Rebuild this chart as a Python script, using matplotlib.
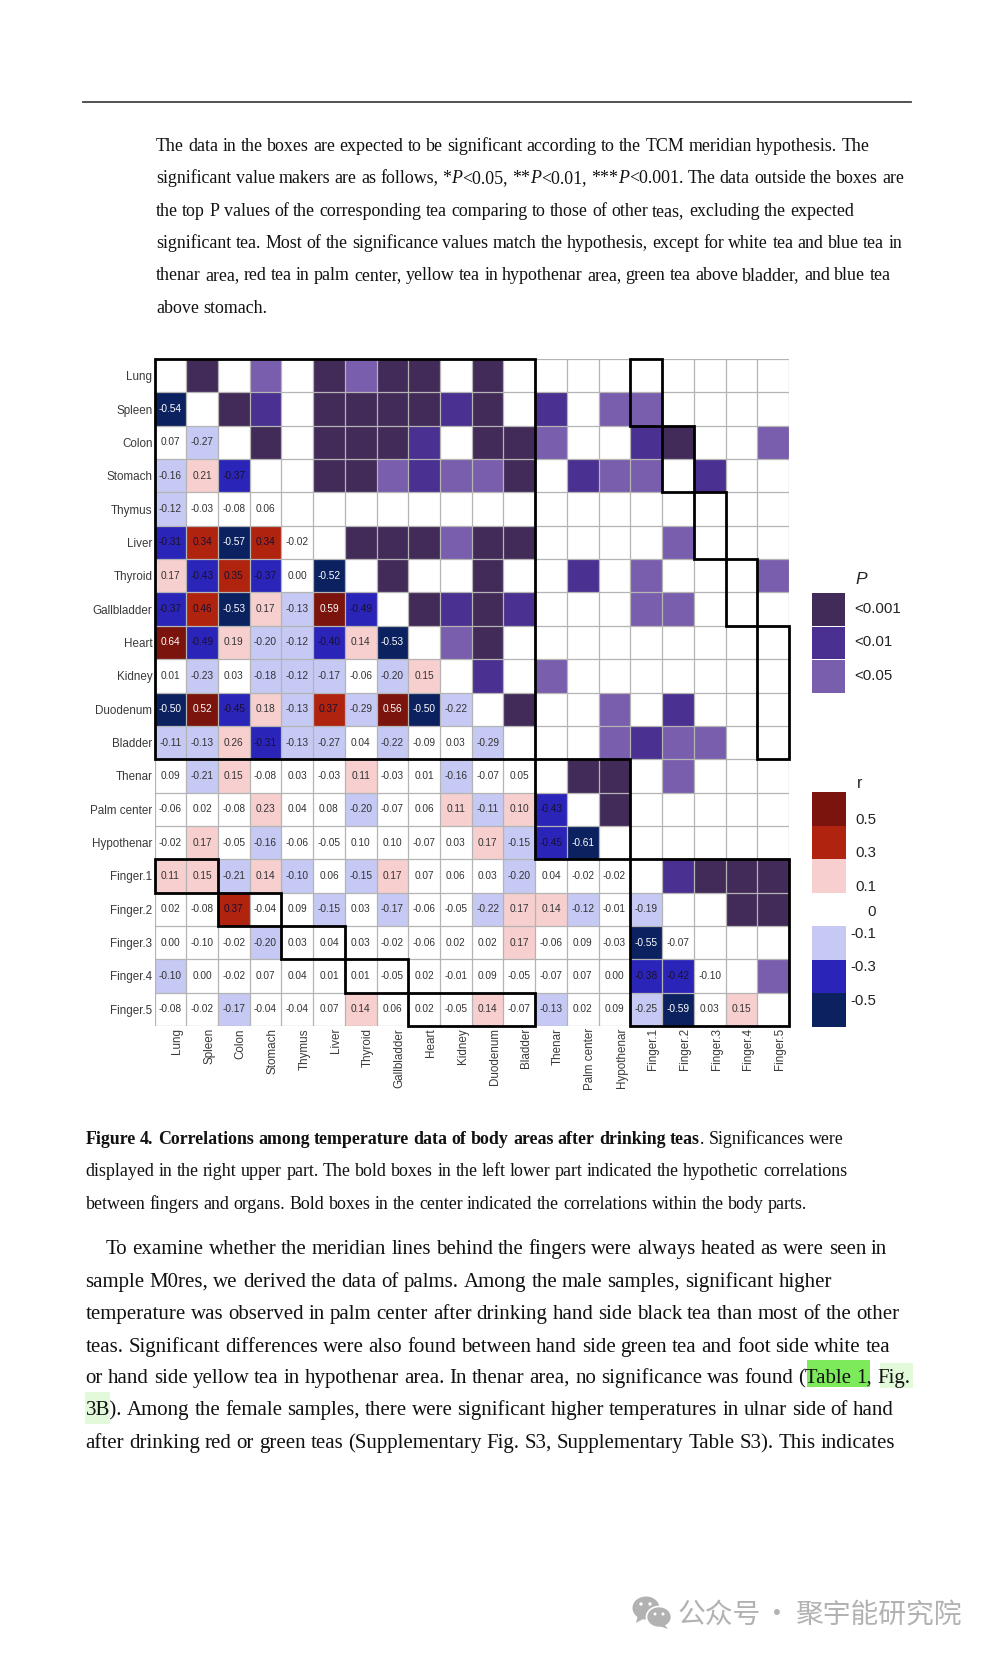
import numpy as np
import matplotlib
matplotlib.use("Agg")
import matplotlib.pyplot as plt
from matplotlib.colors import ListedColormap, BoundaryNorm
from matplotlib.patches import Rectangle, Ellipse, Polygon
from matplotlib.transforms import ScaledTranslation

plt.rcParams["font.family"] = ["Liberation Sans", "DejaVu Sans"]

names = ["Lung", "Spleen", "Colon", "Stomach", "Thymus", "Liver", "Thyroid", "Gallbladder", "Heart", "Kidney",
         "Duodenum", "Bladder", "Thenar", "Palm center", "Hypothenar", "Finger.1", "Finger.2", "Finger.3",
         "Finger.4", "Finger.5"]

# lower left part: r values, row by row
# 0.098 prints as 0.10 but stays white, as those cells do in the figure
r_rows = [
    [],
    [-0.54],
    [0.07, -0.27],
    [-0.16, 0.21, -0.37],
    [-0.12, -0.03, -0.08, 0.06],
    [-0.31, 0.34, -0.57, 0.34, -0.02],
    [0.17, -0.43, 0.35, -0.37, 0.00, -0.52],
    [-0.37, 0.46, -0.53, 0.17, -0.13, 0.59, -0.49],
    [0.64, -0.49, 0.19, -0.20, -0.12, -0.40, 0.14, -0.53],
    [0.01, -0.23, 0.03, -0.18, -0.12, -0.17, -0.06, -0.20, 0.15],
    [-0.50, 0.52, -0.45, 0.18, -0.13, 0.37, -0.29, 0.56, -0.50, -0.22],
    [-0.11, -0.13, 0.26, -0.31, -0.13, -0.27, 0.04, -0.22, -0.09, 0.03, -0.29],
    [0.09, -0.21, 0.15, -0.08, 0.03, -0.03, 0.11, -0.03, 0.01, -0.16, -0.07, 0.05],
    [-0.06, 0.02, -0.08, 0.23, 0.04, 0.08, -0.20, -0.07, 0.06, 0.11, -0.11, 0.10, -0.43],
    [-0.02, 0.17, -0.05, -0.16, -0.06, -0.05, 0.098, 0.098, -0.07, 0.03, 0.17, -0.15, -0.45, -0.61],
    [0.11, 0.15, -0.21, 0.14, -0.10, 0.06, -0.15, 0.17, 0.07, 0.06, 0.03, -0.20, 0.04, -0.02, -0.02],
    [0.02, -0.08, 0.37, -0.04, 0.09, -0.15, 0.03, -0.17, -0.06, -0.05, -0.22, 0.17, 0.14, -0.12, -0.01, -0.19],
    [0.00, -0.098, -0.02, -0.20, 0.03, 0.04, 0.03, -0.02, -0.06, 0.02, 0.02, 0.17, -0.06, 0.09, -0.03, -0.55, -0.07],
    [-0.10, 0.00, -0.02, 0.07, 0.04, 0.01, 0.01, -0.05, 0.02, -0.01, 0.09, -0.05, -0.07, 0.07, 0.00, -0.38, -0.42,
     -0.098],
    [-0.08, -0.02, -0.17, -0.04, -0.04, 0.07, 0.14, 0.06, 0.02, -0.05, 0.14, -0.07, -0.13, 0.02, 0.09, -0.25, -0.59,
     0.03, 0.15],
]

# upper right part: 0 none, 1 <0.05, 2 <0.01, 3 <0.001 (each row starts right of the diagonal)
sig_rows = [
    [3, 0, 1, 0, 3, 1, 3, 3, 0, 3, 0, 0, 0, 0, 0, 0, 0, 0, 0],
    [3, 2, 0, 3, 3, 3, 3, 2, 3, 0, 2, 0, 1, 1, 0, 0, 0, 0],
    [3, 0, 3, 3, 3, 2, 0, 3, 3, 1, 0, 0, 2, 3, 0, 0, 1],
    [0, 3, 3, 1, 2, 1, 1, 3, 0, 2, 1, 1, 0, 2, 0, 0],
    [0, 0, 0, 0, 0, 0, 0, 0, 0, 0, 0, 0, 0, 0, 0],
    [3, 3, 3, 1, 3, 3, 0, 0, 0, 0, 1, 0, 0, 0],
    [3, 0, 0, 3, 0, 0, 2, 0, 1, 0, 0, 0, 1],
    [3, 2, 3, 2, 0, 0, 0, 1, 1, 0, 0, 0],
    [1, 3, 0, 0, 0, 0, 0, 0, 0, 0, 0],
    [2, 0, 1, 0, 0, 0, 0, 0, 0, 0],
    [3, 0, 0, 1, 0, 2, 0, 0, 0],
    [0, 0, 1, 2, 1, 1, 0, 0],
    [3, 3, 0, 1, 0, 0, 0],
    [3, 0, 0, 0, 0, 0],
    [0, 0, 0, 0, 0],
    [2, 3, 3, 3],
    [0, 3, 3],
    [0, 0],
    [1],
    [],
]

r_bounds = [-1, -0.499, -0.299, -0.099, 0.099, 0.299, 0.499, 1]
r_colors = ["#0b2160", "#2a24b8", "#c6c9f4", "#ffffff", "#f6cfce", "#b0240f", "#7a140c"]
sig_colors = ["#ffffff", "#7a5eae", "#4a3090", "#432b59"]

# legends
p_labels = ["<0.001", "<0.01", "<0.05"]
p_levels = [3, 2, 1]
r_legend_levels = [0.6, 0.4, 0.2, 0.0, -0.2, -0.4, -0.6]
r_labels = ["0.5", "0.3", "0.1", "0", "-0.1", "-0.3", "-0.5"]
r_label_y = [820, 853, 887, 912, 934, 967, 1001]

# fingers vs organs: row, first col, last col
finger_boxes = [(15, 0, 2), (16, 2, 4), (17, 4, 6), (18, 6, 8), (19, 8, 12)]
body_boxes = [(0, 12), (12, 15), (15, 20)]

# each line is a list of runs: text, style
top_lines = [
    [("The data in the boxes are expected to be significant according to the TCM meridian hypothesis. The", "normal")],
    [("significant value makers are as follows, *", "normal"), ("P", "italic"), ("<0.05, **", "normal"),
     ("P", "italic"), ("<0.01, ***", "normal"), ("P", "italic"),
     ("<0.001. The data outside the boxes are", "normal")],
    [("the top P values of the corresponding tea comparing to those of other teas, excluding the expected", "normal")],
    [("significant tea. Most of the significance values match the hypothesis, except for white tea and blue tea in",
      "normal")],
    [("thenar area, red tea in palm center, yellow tea in hypothenar area, green tea above bladder, and blue tea",
      "normal")],
    [("above stomach.", "normal")],
]
top_y = [151, 183, 216, 248, 280, 313]

caption_lines = [
    [("Figure 4. Correlations among temperature data of body areas after drinking teas", "bold"),
     (". Significances were", "normal")],
    [("displayed in the right upper part. The bold boxes in the left lower part indicated the hypothetic correlations",
      "normal")],
    [("between fingers and organs. Bold boxes in the center indicated the correlations within the body parts.",
      "normal")],
]
caption_y = [1144, 1176, 1209]

body_lines = [
    "To examine whether the meridian lines behind the fingers were always heated as were seen in",
    "sample M0res, we derived the data of palms. Among the male samples, significant higher",
    "temperature was observed in palm center after drinking hand side black tea than most of the other",
    "teas. Significant differences were also found between hand side green tea and foot side white tea",
    "or hand side yellow tea in hypothenar area. In thenar area, no significance was found (Table 1, Fig.",
    "3B). Among the female samples, there were significant higher temperatures in ulnar side of hand",
    "after drinking red or green teas (Supplementary Fig. S3, Supplementary Table S3). This indicates",
]
body_y = [1254, 1287, 1319, 1352, 1383, 1415, 1448]

W, H = 992, 1653
fig = plt.figure(figsize=(W / 100, H / 100), dpi=100, facecolor="white")


def px_axes(x0, y0, x1, y1):
    return fig.add_axes([x0 / W, 1 - y1 / H, (x1 - x0) / W, (y1 - y0) / H])


# page layer, in pixels
page = fig.add_axes([0, 0, 1, 1])
page.set_xlim(0, W)
page.set_ylim(H, 0)
page.axis("off")


# the font only renders at whole pixel sizes, so word gaps are set by hand to get the line length
def draw_runs(x, y, runs, size, gap):
    rend = fig.canvas.get_renderer()
    for s, st in runs:
        kw = {"style": "italic"} if st == "italic" else ({"weight": "bold"} if st == "bold" else {})
        words = s.split(" ")
        for k, word in enumerate(words):
            t = page.text(x, y, word, family="Liberation Serif", fontsize=size, va="baseline", color="#111111", **kw)
            x = t.get_window_extent(rend).x1
            if k < len(words) - 1:
                x += gap


page.plot([83, 911], [101.5, 101.5], color="#444444", lw=1.3)

for runs, y in zip(top_lines, top_y):
    draw_runs(156, y, runs, 12.9, 4.3)
for runs, y in zip(caption_lines, caption_y):
    draw_runs(85.5, y, runs, 12.9, 4.3)

page.add_patch(Rectangle((806.5, 1360), 63, 27, color="#7dea5c", lw=0, zorder=0))
page.add_patch(Rectangle((880, 1363), 33, 25, color="#e2f9da", lw=0, zorder=0))
page.add_patch(Rectangle((85, 1392), 25, 32, color="#e2f9da", lw=0, zorder=0))
for i, (s, y) in enumerate(zip(body_lines, body_y)):
    draw_runs(106 if i == 0 else 85.5, y, [(s, "normal")], 15, 4.95)

# watermark
wm = "#b2b2b2"
cjk = ["Noto Sans CJK SC", "DejaVu Sans"]
page.add_patch(Ellipse((646, 1608), 27, 23, color=wm, lw=0))
page.add_patch(Polygon([[638, 1615], [636, 1623], [645, 1618]], color=wm, lw=0))
page.add_patch(Ellipse((659, 1617), 25, 21, facecolor=wm, edgecolor="white", lw=1.2))
page.add_patch(Polygon([[664, 1624], [668, 1629], [659, 1626]], color=wm, lw=0))
for x, y, d in [(641, 1604, 3.4), (650, 1604, 3.4), (655, 1614, 3), (663, 1614, 3)]:
    page.add_patch(Ellipse((x, y), d, d, color="white", lw=0))
page.text(678, 1615, "公众号", family=cjk, fontsize=20, va="center", color=wm)
page.text(776.5, 1615, "·", family=cjk, fontsize=20, va="center", ha="center", color=wm)
page.text(795, 1615, "聚宇能研究院", family=cjk, fontsize=20, va="center", color=wm)

# heatmap
n = len(names)
r_mat = np.full((n, n), np.nan)
sig_mat = np.full((n, n), np.nan)
for i, row in enumerate(r_rows):
    r_mat[i, :len(row)] = row
for i, row in enumerate(sig_rows):
    sig_mat[i, i + 1:] = row

r_cmap = ListedColormap(r_colors)
r_norm = BoundaryNorm(r_bounds, r_cmap.N)
sig_cmap = ListedColormap(sig_colors)
sig_norm = BoundaryNorm([-0.5, 0.5, 1.5, 2.5, 3.5], sig_cmap.N)

ax = px_axes(154.5, 359, 789, 1026)
ax.set_xlim(0, n)
ax.set_ylim(n, 0)
grid = np.arange(n + 1)
ax.pcolormesh(grid, grid, np.ma.masked_invalid(r_mat), cmap=r_cmap, norm=r_norm)
ax.pcolormesh(grid, grid, np.ma.masked_invalid(sig_mat), cmap=sig_cmap, norm=sig_norm)
for k in range(n + 1):
    ax.axhline(k, color="#b4b4b4", lw=0.9, zorder=1.5)
    ax.axvline(k, color="#b4b4b4", lw=0.9, zorder=1.5)

for i, row in enumerate(r_rows):
    for j, v in enumerate(row):
        tc = "white" if abs(v) >= 0.5 else ("#1a1030" if abs(v) >= 0.3 else "#333333")
        ax.text(j + 0.5, i + 0.5, "%.2f" % v, ha="center", va="center", fontsize=7.3, color=tc)

bold = dict(fill=False, edgecolor="black", lw=2.0, zorder=3, clip_on=False)
for a, b in body_boxes:
    ax.add_patch(Rectangle((a, a), b - a, b - a, **bold))
for r, c0, c1 in finger_boxes:
    ax.add_patch(Rectangle((c0, r), c1 - c0, 1, **bold))
    ax.add_patch(Rectangle((r, c0), 1, c1 - c0, **bold))

ax.set_xticks(grid[:-1] + 0.5)
ax.set_xticklabels(names, rotation=90, fontsize=8.4, color="#3a3a3a", ha="center", va="top")
ax.set_yticks(grid[:-1] + 0.5)
ax.set_yticklabels(names, fontsize=8.4, color="#3a3a3a")
ax.tick_params(length=0, pad=1.5)
for lab in ax.get_xticklabels():
    lab.set_transform(lab.get_transform() + ScaledTranslation(7 / 100, 0, fig.dpi_scale_trans))
for s in ax.spines.values():
    s.set_visible(False)

# P legend
lp = px_axes(811, 592, 845, 693)
lp.pcolormesh(np.array(p_levels).reshape(-1, 1), cmap=sig_cmap, norm=sig_norm, edgecolors="white", linewidth=0.6)
lp.set_ylim(len(p_levels), 0)
lp.axis("off")
page.text(855, 579, "P", style="italic", fontsize=12.5, va="center", color="#222222")
for lab, y in zip(p_labels, [609, 642.5, 676]):
    page.text(854, y, lab, fontsize=10.8, va="center", color="#222222")

# r legend
lr = px_axes(812, 792, 846, 1027)
lr.pcolormesh(np.array(r_legend_levels).reshape(-1, 1), cmap=r_cmap, norm=r_norm)
lr.set_ylim(len(r_legend_levels), 0)
lr.axis("off")
page.text(857, 783, "r", fontsize=11.5, va="center", color="#222222")
for lab, y in zip(r_labels, r_label_y):
    page.text(876, y, lab, fontsize=10.8, va="center", ha="right", color="#222222")

fig.savefig("out.png", dpi=100)
